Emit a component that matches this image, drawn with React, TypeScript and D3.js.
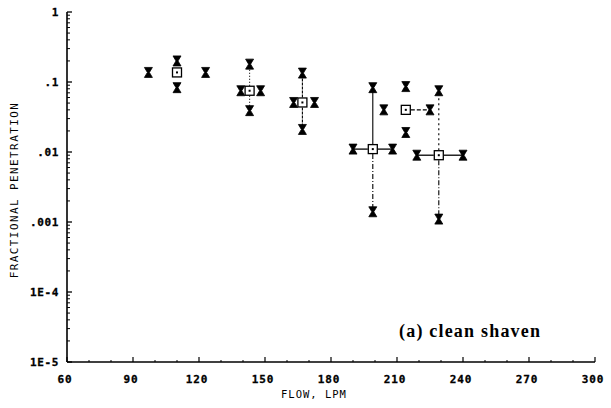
import React from "react";
import * as d3 from "d3";

const flow = [110, 143, 167, 199, 214, 229];
const pen = [0.137, 0.075, 0.051, 0.011, 0.040, 0.009];
const penHi = [0.20, 0.18, 0.134, 0.083, 0.086, 0.075];
const penLo = [0.083, 0.039, 0.021, 0.0014, 0.019, 0.0011];
const flowLo = [97, 139, 163, 190, 204, 219];
const flowHi = [123, 148, 172.5, 208, 225, 240];

const xTicks = [60, 90, 120, 150, 180, 210, 240, 270, 300];
const yTicks = [1, 0.1, 0.01, 0.001, 1e-4, 1e-5];
const yTickLabels = ["1", ".1", ".01", ".001", "1E-4", "1E-5"];

// line styles per group (vertical upper, vertical lower, horizontal left, horizontal right)
const vStyleUp = ["none", "1,2", "3,1", "0", "none", "2,3"];
const vStyleDn = ["none", "1,2", "3,1", "5,2,1,2", "none", "5,2,1,2"];
const hStyleL = ["none", "none", "none", "0", "none", "0"];
const hStyleR = ["none", "none", "none", "0", "4,2", "0"];

const W = 611, H = 408;
const x = d3.scaleLinear().domain([60, 300]).range([67, 595]);
const y = d3.scaleLog().domain([1e-5, 1]).range([362, 12]);

const tickFont = "'DejaVu Sans Mono', monospace";

function Hourglass({ cx, cy }: { cx: number; cy: number }) {
  const w = 4, h = 5;
  const p = d3.path();
  p.moveTo(cx - w, cy - h);
  p.lineTo(cx + w, cy - h);
  p.lineTo(cx + 1, cy);
  p.lineTo(cx + w, cy + h);
  p.lineTo(cx - w, cy + h);
  p.lineTo(cx - 1, cy);
  p.closePath();
  return <path d={p.toString()} fill="#000" stroke="#000" strokeWidth={0.8} />;
}

export default function App() {
  const minorY: number[] = [];
  for (let e = -5; e < 0; e++) {
    for (let k = 2; k <= 9; k++) minorY.push(k * Math.pow(10, e));
  }
  const minorX = d3.range(60, 301, 10).filter((v) => v % 30 !== 0);

  return (
    <svg width={W} height={H} style={{ position: "absolute", left: 0, top: 0, background: "#fff" }}>
      <rect x={0} y={0} width={W} height={H} fill="#fff" />
      {/* axes */}
      <line x1={x(60)} x2={x(60)} y1={y(1)} y2={y(1e-5)} stroke="#000" strokeWidth={1.6} />
      <line x1={x(60)} x2={x(300)} y1={y(1e-5)} y2={y(1e-5)} stroke="#000" strokeWidth={1.4} />
      {yTicks.map((t, i) => (
        <g key={"yt" + i}>
          <line x1={x(60)} x2={x(60) + 5} y1={y(t)} y2={y(t)} stroke="#000" strokeWidth={1.3} />
          <text
            x={59}
            y={y(t) + 4}
            textAnchor="end"
            fontFamily={tickFont}
            fontWeight="bold"
            fontSize={11}
            letterSpacing={0.6}
            stroke="#000"
            strokeWidth={0.3}
          >
            {yTickLabels[i]}
          </text>
        </g>
      ))}
      {minorY.map((t, i) => (
        <line key={"ym" + i} x1={x(60)} x2={x(60) + 3} y1={y(t)} y2={y(t)} stroke="#000" strokeWidth={1} />
      ))}
      {xTicks.map((t, i) => (
        <g key={"xt" + i}>
          <line x1={x(t)} x2={x(t)} y1={y(1e-5)} y2={y(1e-5) - 5} stroke="#000" strokeWidth={1.2} />
          <text
            x={x(t) - 2}
            y={383}
            textAnchor="middle"
            fontFamily={tickFont}
            fontWeight="bold"
            fontSize={11}
            letterSpacing={0.8}
            stroke="#000"
            strokeWidth={0.3}
          >
            {t}
          </text>
        </g>
      ))}
      {minorX.map((t, i) => (
        <line key={"xm" + i} x1={x(t)} x2={x(t)} y1={y(1e-5)} y2={y(1e-5) - 2} stroke="#000" strokeWidth={1} />
      ))}
      <text
        x={314}
        y={398}
        textAnchor="middle"
        fontFamily={tickFont}
        fontSize={10.5}
        letterSpacing={1}
      >
        FLOW, LPM
      </text>
      <text
        transform={`translate(18, 190) rotate(-90)`}
        textAnchor="middle"
        fontFamily={tickFont}
        fontSize={11}
        letterSpacing={1.4}
      >
        FRACTIONAL PENETRATION
      </text>
      <text
        x={399}
        y={337}
        fontFamily="'Liberation Serif', 'DejaVu Serif', serif"
        fontWeight="bold"
        fontSize={18}
        letterSpacing={1.2}
      >
        (a) clean shaven
      </text>

      {/* data */}
      {flow.map((f, i) => {
        const cx = x(f), cy = y(pen[i]);
        return (
          <g key={"g" + i}>
            {vStyleUp[i] !== "none" && (
              <line x1={cx} x2={cx} y1={cy - 5} y2={y(penHi[i])} stroke="#000" strokeWidth={1.1}
                strokeDasharray={vStyleUp[i] === "0" ? undefined : vStyleUp[i]} />
            )}
            {vStyleDn[i] !== "none" && (
              <line x1={cx} x2={cx} y1={cy + 5} y2={y(penLo[i])} stroke="#000" strokeWidth={1.1}
                strokeDasharray={vStyleDn[i] === "0" ? undefined : vStyleDn[i]} />
            )}
            {hStyleL[i] !== "none" && (
              <line x1={x(flowLo[i])} x2={cx - 5} y1={cy} y2={cy} stroke="#000" strokeWidth={1.3}
                strokeDasharray={hStyleL[i] === "0" ? undefined : hStyleL[i]} />
            )}
            {hStyleR[i] !== "none" && (
              <line x1={cx + 5} x2={x(flowHi[i])} y1={cy} y2={cy} stroke="#000" strokeWidth={1.3}
                strokeDasharray={hStyleR[i] === "0" ? undefined : hStyleR[i]} />
            )}
            <Hourglass cx={cx} cy={y(penHi[i])} />
            <Hourglass cx={cx} cy={y(penLo[i])} />
            <Hourglass cx={x(flowLo[i])} cy={cy} />
            <Hourglass cx={x(flowHi[i])} cy={cy} />
            <rect x={cx - 4.5} y={cy - 4.5} width={9} height={9} fill="#fff" stroke="#000" strokeWidth={1.3} />
            <rect x={cx - 1} y={cy - 1} width={2} height={2} fill="#000" />
          </g>
        );
      })}
    </svg>
  );
}
